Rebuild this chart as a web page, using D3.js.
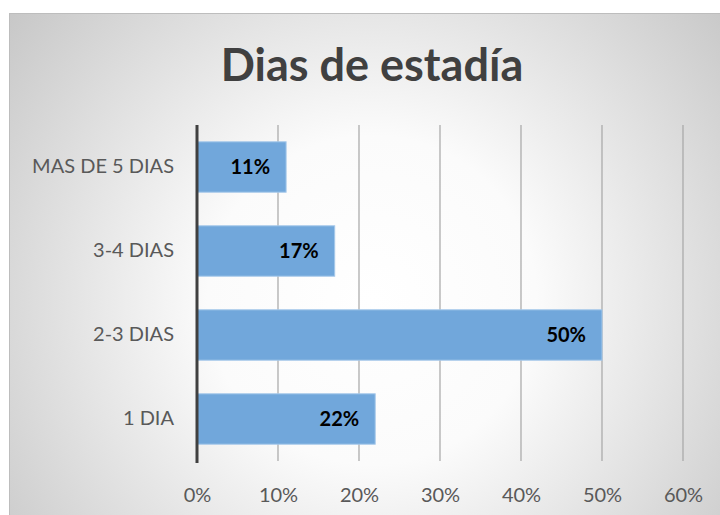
<!DOCTYPE html>
<html>
<head>
<meta charset="utf-8">
<script src="https://cdn.jsdelivr.net/npm/d3@7"></script>
<style>
  html, body { margin: 0; padding: 0; background: #ffffff; }
  svg { display: block; }
</style>
</head>
<body>
<svg id="chart" width="720" height="515"></svg>
<script>
// Stay-length categories, top to bottom, and their shares (%)
const categories = ["MAS DE 5 DIAS", "3-4 DIAS", "2-3 DIAS", "1 DIA"];
const shares = [11, 17, 50, 22];
const tickValues = [0, 10, 20, 30, 40, 50, 60];
const title = "Dias de estadía";

const W = 720, H = 515;
const svg = d3.select("#chart");
const font = "Lato, 'Open Sans', sans-serif";

// Soft radial background panel
const defs = svg.append("defs");
const grad = defs.append("radialGradient")
  .attr("id", "bg").attr("gradientUnits", "userSpaceOnUse")
  .attr("cx", 372).attr("cy", 300).attr("r", 470);
grad.append("stop").attr("offset", "0%").attr("stop-color", "#ffffff");
grad.append("stop").attr("offset", "35%").attr("stop-color", "#fbfbfb");
grad.append("stop").attr("offset", "100%").attr("stop-color", "#c6c6c6");

svg.append("rect")
  .attr("x", 9.5).attr("y", 13.5).attr("width", W).attr("height", H)
  .attr("fill", "url(#bg)")
  .attr("stroke", "#bdbdbd").attr("stroke-width", 1);

const margin = { left: 197, right: 37, top: 125, bottom: 54 };
const x = d3.scaleLinear().domain([0, 60]).range([margin.left, W - margin.right]);
const y = d3.scaleBand().domain(categories)
  .range([margin.top, H - margin.bottom]).paddingInner(0.4).paddingOuter(0.2);

// Vertical gridlines
svg.append("g").selectAll("line")
  .data(tickValues.slice(1))
  .join("line")
  .attr("x1", d => x(d)).attr("x2", d => x(d))
  .attr("y1", margin.top).attr("y2", H - margin.bottom)
  .attr("stroke", "#a6a6a6").attr("stroke-width", 1.2);

// Bars
svg.append("g").selectAll("rect")
  .data(categories)
  .join("rect")
  .attr("x", x(0))
  .attr("y", d => y(d))
  .attr("width", (d, i) => x(shares[i]) - x(0))
  .attr("height", y.bandwidth())
  .attr("fill", "#71a7db")
  .attr("stroke", "#a5c8ea").attr("stroke-width", 1);

// Value labels inside the bar ends
svg.append("g").selectAll("text")
  .data(categories)
  .join("text")
  .attr("x", (d, i) => x(shares[i]) - 16)
  .attr("y", d => y(d) + y.bandwidth() / 2)
  .attr("dy", "0.36em")
  .attr("text-anchor", "end")
  .attr("font-family", font).attr("font-weight", "bold")
  .attr("font-size", 20).attr("fill", "#000000")
  .text((d, i) => shares[i] + "%");

// Category axis
const yAxis = svg.append("g")
  .attr("transform", `translate(${x(0)},0)`)
  .call(d3.axisLeft(y).tickSize(0).tickPadding(23));
yAxis.select(".domain").remove();
yAxis.selectAll("text")
  .attr("font-family", font).attr("font-size", 20).attr("fill", "#595959");

svg.append("line")
  .attr("x1", x(0)).attr("x2", x(0))
  .attr("y1", margin.top).attr("y2", H - margin.bottom + 2)
  .attr("stroke", "#404040").attr("stroke-width", 3);

// Percentage axis
const xAxis = svg.append("g")
  .attr("transform", `translate(0,${H - margin.bottom})`)
  .call(d3.axisBottom(x).tickValues(tickValues).tickSize(0).tickPadding(27)
    .tickFormat(d => d + "%"));
xAxis.select(".domain").remove();
xAxis.selectAll("text")
  .attr("font-family", font).attr("font-size", 20).attr("fill", "#595959");

// Title
svg.append("text")
  .attr("x", 372).attr("y", 81)
  .attr("text-anchor", "middle")
  .attr("font-family", font).attr("font-weight", "bold")
  .attr("font-size", 45).attr("fill", "#404040")
  .text(title);
</script>
</body>
</html>
